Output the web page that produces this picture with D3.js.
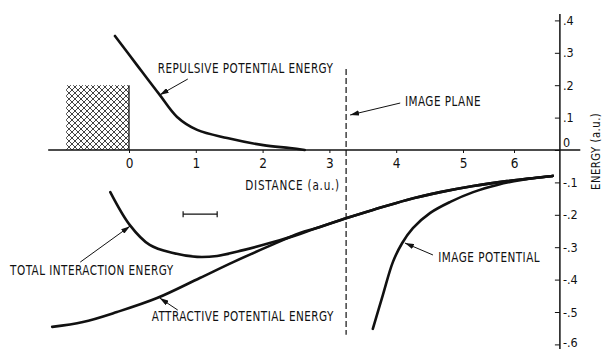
<!DOCTYPE html>
<html>
<head>
<meta charset="utf-8">
<script src="https://cdn.jsdelivr.net/npm/d3@7"></script>
<style>
  html, body { margin: 0; padding: 0; background: #fff; }
  svg { display: block; }
  text { font-family: "DejaVu Sans", sans-serif; font-stretch: condensed; fill: #111; }
</style>
</head>
<body>
<svg id="chart" width="602" height="349"></svg>
<script>
// Distance (a.u.) / energy (a.u.) samples for each curve
const repulsiveX = [-0.21, 0.12, 0.46, 0.72, 1.02, 1.47, 2.01, 2.41, 2.63];
const repulsiveY = [0.352, 0.262, 0.170, 0.102, 0.062, 0.037, 0.015, 0.006, 0.0];

const totalX = [-0.28, 0.01, 0.31, 0.66, 1.02, 1.32, 1.71, 2.16, 2.56, 2.81, 3.26, 3.65, 4.16, 4.66, 5.20, 5.86, 6.76];
const totalY = [-0.130, -0.231, -0.293, -0.318, -0.330, -0.327, -0.309, -0.284, -0.259, -0.241, -0.210, -0.185, -0.154, -0.130, -0.111, -0.096, -0.080];

const attractiveX = [-1.15, -0.69, -0.18, 0.42, 1.06, 1.56, 2.07, 2.56, 2.81, 3.26, 3.65, 4.16, 4.66, 5.20, 5.86, 6.76];
const attractiveY = [-0.546, -0.531, -0.500, -0.457, -0.395, -0.346, -0.299, -0.256, -0.241, -0.210, -0.185, -0.154, -0.130, -0.111, -0.096, -0.080];

const imageX = [3.65, 3.80, 3.95, 4.09, 4.25, 4.51, 4.81, 5.20, 5.67, 6.12, 6.76];
const imageY = [-0.552, -0.448, -0.346, -0.287, -0.241, -0.194, -0.160, -0.130, -0.108, -0.093, -0.080];

// Axis ticks
const xTicks = [0, 1, 2, 3, 4, 5, 6];
const yTicks = [0.4, 0.3, 0.2, 0.1, 0, -0.1, -0.2, -0.3, -0.4, -0.5, -0.6];

// Image plane position and the solid (hatched) region
const imagePlaneX = 3.25;
const imagePlaneSpan = [0.25, -0.57];
const solidSpanX = [-0.94, 0];
const solidTopY = 0.2;
const scaleBarX = [0.81, 1.32];
const scaleBarY = -0.198;

// Curve labels: text anchor and arrow (tail -> head), in data units
const labelText = ["REPULSIVE POTENTIAL ENERGY", "IMAGE PLANE", "TOTAL INTERACTION ENERGY", "ATTRACTIVE POTENTIAL ENERGY", "IMAGE POTENTIAL"];
const labelAt = [[0.43, 0.238], [4.13, 0.136], [-1.78, -0.386], [0.34, -0.528], [4.63, -0.346]];
const arrowFrom = [[0.88, 0.219], [4.06, 0.145], [-0.73, -0.346], [0.73, -0.494], [4.55, -0.324]];
const arrowTo = [[0.46, 0.170], [3.31, 0.108], [0.015, -0.235], [0.46, -0.457], [4.13, -0.287]];

const xTitle = "DISTANCE (a.u.)";
const yTitle = "ENERGY (a.u.)";

const svg = d3.select("#chart");

// The hand-ruled distance axis is slightly compressed beyond x = 5
const x = d3.scaleLinear().domain([0, 5, 6]).range([129, 463, 514]);
const y = d3.scaleLinear().domain([-0.6, 0.4]).range([344.4, 20.4]);

const axisX = 6.9;   // energy axis sits at this distance

// Lettering is tall and narrow: squeeze glyphs horizontally
const squeeze = 0.86;
function letter(sel, px, py, t, size, spacing) {
  return sel.append("text")
    .attr("transform", `translate(${px},${py}) scale(${squeeze},1)`)
    .style("font-size", size + "px").style("letter-spacing", spacing + "px")
    .text(t);
}

// Crosshatch for the solid
const defs = svg.append("defs");
const pat = defs.append("pattern")
  .attr("id", "hatch").attr("patternUnits", "userSpaceOnUse")
  .attr("width", 6).attr("height", 6);
pat.append("path")
  .attr("d", "M0,0 L6,6 M6,0 L0,6 M-1,5 L1,7 M5,-1 L7,1 M-1,1 L1,-1 M5,7 L7,5")
  .attr("stroke", "#222").attr("stroke-width", 0.85).attr("fill", "none");

svg.append("rect")
  .attr("x", x(solidSpanX[0])).attr("y", y(solidTopY))
  .attr("width", x(solidSpanX[1]) - x(solidSpanX[0]))
  .attr("height", y(0) - y(solidTopY))
  .attr("fill", "url(#hatch)");
svg.append("line")
  .attr("x1", x(solidSpanX[1])).attr("x2", x(solidSpanX[1]))
  .attr("y1", y(solidTopY)).attr("y2", y(0))
  .attr("stroke", "#111").attr("stroke-width", 1.3);

// Distance axis (baseline through zero energy)
svg.append("line")
  .attr("x1", x(-1.21)).attr("x2", x(7.3))
  .attr("y1", y(0)).attr("y2", y(0))
  .attr("stroke", "#111").attr("stroke-width", 1.5);

const gx = svg.append("g")
  .attr("transform", `translate(0,${y(0)})`)
  .call(d3.axisBottom(x).tickValues(xTicks).tickFormat(d3.format("d")).tickSize(3).tickPadding(5));
gx.select(".domain").remove();
gx.selectAll(".tick line").attr("stroke", "#111").attr("stroke-width", 1);
gx.selectAll(".tick text").style("font-size", "13.5px").style("font-family", null).attr("fill", "#111");

// Energy axis on the right
const fmtE = v => v === 0 ? "0" : (v < 0 ? "-" : "") + "." + Math.round(Math.abs(v) * 10);
const gy = svg.append("g")
  .attr("transform", `translate(${x(axisX)},0)`)
  .call(d3.axisRight(y).tickValues(yTicks).tickFormat(fmtE).tickSize(-5).tickPadding(3));
gy.select(".domain").remove();
gy.append("line")
  .attr("y1", y(0.42)).attr("y2", y(-0.62))
  .attr("stroke", "#111").attr("stroke-width", 1.5);
gy.selectAll(".tick line").attr("stroke", "#111").attr("stroke-width", 1);
gy.selectAll(".tick text").style("font-size", "12.5px").style("font-family", null).attr("fill", "#111");
gy.selectAll(".tick").filter(d => d === 0).select("text").attr("dy", "-0.25em");
gy.selectAll(".tick").filter(d => d === -0.6).select("text").attr("dy", "0.2em");

// Axis titles
letter(svg, x(1.74), y(-0.123), xTitle, 13.5, 0.9);
svg.append("text")
  .attr("transform", `translate(${x(7.6)},${y(-0.004)}) rotate(-90) scale(${squeeze},1)`)
  .attr("text-anchor", "middle").attr("dy", "0.35em")
  .style("font-size", "13px").style("letter-spacing", "0.6px")
  .text(yTitle);

// Image plane
svg.append("line")
  .attr("x1", x(imagePlaneX)).attr("x2", x(imagePlaneX))
  .attr("y1", y(imagePlaneSpan[0])).attr("y2", y(imagePlaneSpan[1]))
  .attr("stroke", "#111").attr("stroke-width", 1.2)
  .attr("stroke-dasharray", "6,3");

// Scale bar
const sb = svg.append("g").attr("stroke", "#111").attr("stroke-width", 1.2);
sb.append("line").attr("x1", x(scaleBarX[0])).attr("x2", x(scaleBarX[1])).attr("y1", y(scaleBarY)).attr("y2", y(scaleBarY));
scaleBarX.forEach(v => sb.append("line").attr("x1", x(v)).attr("x2", x(v)).attr("y1", y(scaleBarY) - 3).attr("y2", y(scaleBarY) + 3));

// Energy curves
const line = d3.line().x(d => x(d[0])).y(d => y(d[1])).curve(d3.curveCatmullRom.alpha(0.5));
const series = [
  d3.zip(repulsiveX, repulsiveY),
  d3.zip(attractiveX, attractiveY),
  d3.zip(totalX, totalY),
  d3.zip(imageX, imageY)
];
svg.append("g").selectAll("path").data(series).join("path")
  .attr("d", line)
  .attr("fill", "none").attr("stroke", "#111")
  .attr("stroke-width", 2.6).attr("stroke-linecap", "round").attr("stroke-linejoin", "round");

// Labels with pointer arrows
defs.append("marker")
  .attr("id", "head").attr("viewBox", "0 0 10 6").attr("refX", 10).attr("refY", 3)
  .attr("markerWidth", 9).attr("markerHeight", 5.4).attr("markerUnits", "userSpaceOnUse")
  .attr("orient", "auto")
  .append("path").attr("d", "M0,0 L10,3 L0,6 Z").attr("fill", "#111");

labelText.forEach((t, i) => {
  svg.append("line")
    .attr("x1", x(arrowFrom[i][0])).attr("y1", y(arrowFrom[i][1]))
    .attr("x2", x(arrowTo[i][0])).attr("y2", y(arrowTo[i][1]))
    .attr("stroke", "#111").attr("stroke-width", 1)
    .attr("marker-end", "url(#head)");
  letter(svg, x(labelAt[i][0]), y(labelAt[i][1]), t, 13.5, 0.55);
});
</script>
</body>
</html>
